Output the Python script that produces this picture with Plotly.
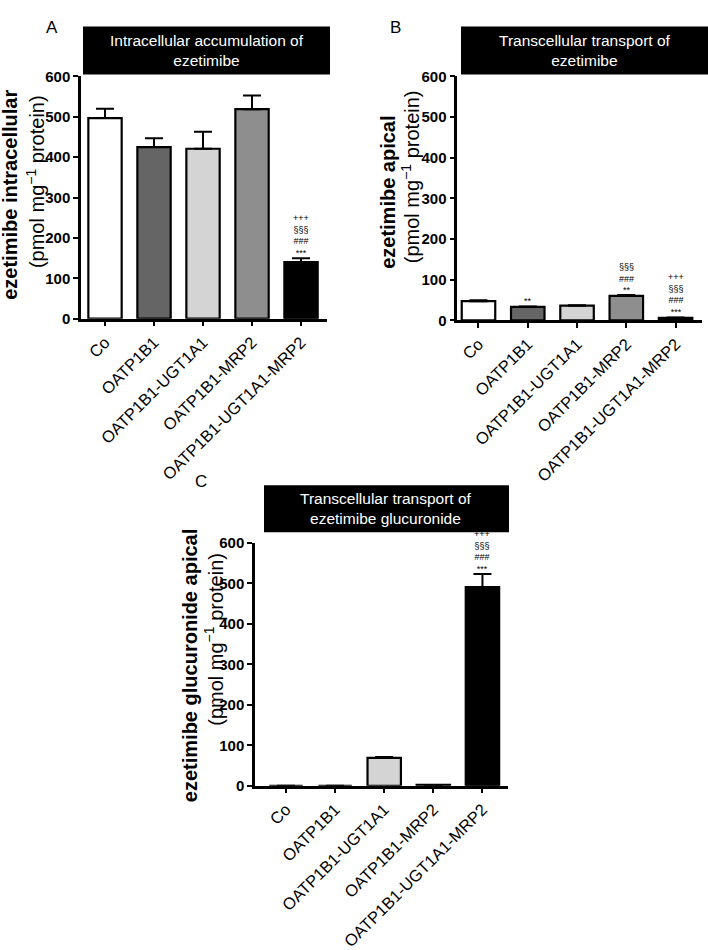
import plotly.graph_objects as go

categories = ["Co", "OATP1B1", "OATP1B1-UGT1A1", "OATP1B1-MRP2", "OATP1B1-UGT1A1-MRP2"]
bar_colors = ["#ffffff", "#656565", "#d4d4d4", "#8e8e8e", "#000000"]

a_values = [497, 425, 421, 519, 140]
a_errors = [23, 22, 42, 34, 10]
b_values = [47, 33, 36, 60, 6]
b_errors = [2, 1, 1, 2, 1]
c_values = [0, 0, 69, 2, 491]
c_errors = [0, 0, 2, 0, 32]

a_marks = {4: ["***", "###", "§§§", "+++"]}
b_marks = {1: ["**"], 3: ["**", "###", "§§§"], 4: ["***", "###", "§§§", "+++"]}
c_marks = {4: ["***", "###", "§§§", "+++"]}

y_ticks = [0, 100, 200, 300, 400, 500, 600]

W, H = 708, 950
FONT = "Arial, 'Liberation Sans', sans-serif"

def px_x(v):
    return v / W

def px_y(v):
    return 1 - v / H

panels = [
    dict(vals=a_values, errs=a_errors, marks=a_marks, xd=(81, 327), yd=(316.7, 69), xr=(-0.49, 4.53),
         title="Intracellular accumulation of<br>ezetimibe", box=(83, 330, 18, 67), letter="A", lpos=(52, 19),
         yt1="ezetimibe intracellular", yt1pos=(10, 190), yt2pos=(35, 177)),
    dict(vals=b_values, errs=b_errors, marks=b_marks, xd=(457.3, 701.7), yd=(318.3, 69), xr=(-0.43, 4.53),
         title="Transcellular transport of<br>ezetimibe", box=(461, 708, 18, 67), letter="B", lpos=(396, 19),
         yt1="ezetimibe apical", yt1pos=(388, 187), yt2pos=(410, 172)),
    dict(vals=c_values, errs=c_errors, marks=c_marks, xd=(255, 508), yd=(794.3, 546), xr=(-0.63, 4.52),
         title="Transcellular transport of<br>ezetimibe glucuronide", box=(264, 509, 487, 535), letter="C", lpos=(201, 483),
         yt1="ezetimibe glucuronide apical", yt1pos=(190, 672), yt2pos=(214, 645)),
]
yt2_text = "(pmol mg<sup>−1</sup> protein)"

fig = go.Figure()
shapes = []
annotations = []

for i, p in enumerate(panels):
    n = "" if i == 0 else str(i + 1)
    xa, ya = "x" + n, "y" + n
    fig.add_trace(go.Bar(
        x=list(range(len(categories))), y=p["vals"],
        xaxis=xa, yaxis=ya, width=0.68,
        marker=dict(color=bar_colors, line=dict(color="black", width=2.2)),
        error_y=dict(type="data", array=p["errs"], arrayminus=[0] * 5, symmetric=False,
                     color="black", thickness=2, width=9),
        showlegend=False, hoverinfo="skip",
    ))
    axis_common = dict(showline=True, linecolor="black", linewidth=2.5, ticks="outside",
                       ticklen=5, tickwidth=2, tickcolor="black", showgrid=False, zeroline=False)
    fig.layout["xaxis" + n] = dict(
        domain=[px_x(p["xd"][0]), px_x(p["xd"][1])], range=list(p["xr"]), anchor=ya,
        tickmode="array", tickvals=list(range(len(categories))), ticktext=categories,
        tickangle=-45, tickfont=dict(family=FONT, size=16.5, color="black"), **axis_common)
    fig.layout["yaxis" + n] = dict(
        domain=[px_y(p["yd"][0]), px_y(p["yd"][1])], range=[0, 600], anchor=xa,
        tickmode="array", tickvals=y_ticks, ticktext=[str(t) for t in y_ticks],
        tickfont=dict(family=FONT, size=15, color="black", weight="bold"),
        **axis_common)
    annotations.append(dict(xref="paper", yref="paper", x=px_x(p["yt1pos"][0]), y=px_y(p["yt1pos"][1]),
                            text="<b>" + p["yt1"] + "</b>", textangle=-90, showarrow=False,
                            xanchor="center", yanchor="middle",
                            font=dict(family=FONT, size=20, color="black")))
    annotations.append(dict(xref="paper", yref="paper", x=px_x(p["yt2pos"][0]), y=px_y(p["yt2pos"][1]),
                            text=yt2_text, textangle=-90, showarrow=False,
                            xanchor="center", yanchor="middle",
                            font=dict(family=FONT, size=20, color="black")))
    x0, x1, y0, y1 = p["box"]
    shapes.append(dict(type="rect", xref="paper", yref="paper", x0=px_x(x0), x1=px_x(x1),
                       y0=px_y(y1), y1=px_y(y0), fillcolor="black", line=dict(width=0)))
    annotations.append(dict(xref="paper", yref="paper", x=px_x((x0 + x1) / 2), y=px_y((y0 + y1) / 2),
                            text=p["title"], showarrow=False, xanchor="center", yanchor="middle",
                            font=dict(family=FONT, size=15.5, color="white")))
    annotations.append(dict(xref="paper", yref="paper", x=px_x(p["lpos"][0]), y=px_y(p["lpos"][1]),
                            text=p["letter"], showarrow=False, xanchor="center", yanchor="middle",
                            font=dict(family=FONT, size=17, color="black")))
    for idx, labels in p["marks"].items():
        top = p["vals"][idx] + p["errs"][idx]
        annotations.append(dict(xref=xa, yref=ya, x=idx, y=top, text="<br>".join(reversed(labels)),
                                showarrow=False, xanchor="center", yanchor="bottom", yshift=-2,
                                font=dict(family=FONT, size=9, color="black")))

fig.update_layout(width=W, height=H, margin=dict(l=0, r=0, t=0, b=0),
                  paper_bgcolor="white", plot_bgcolor="white", shapes=shapes,
                  annotations=annotations, font=dict(family=FONT))

post = (
    "var gd=document.getElementById('{plot_id}');"
    "var w=gd.parentElement;w.style.position='fixed';w.style.top='0px';w.style.left='0px';"
    "w.style.margin='0';w.style.padding='0';"
    "document.documentElement.style.margin='0';document.documentElement.style.overflow='hidden';"
    "document.body.style.margin='0';document.body.style.overflow='hidden';"
)
fig.write_html("out.html", config={"displayModeBar": False}, post_script=post)
